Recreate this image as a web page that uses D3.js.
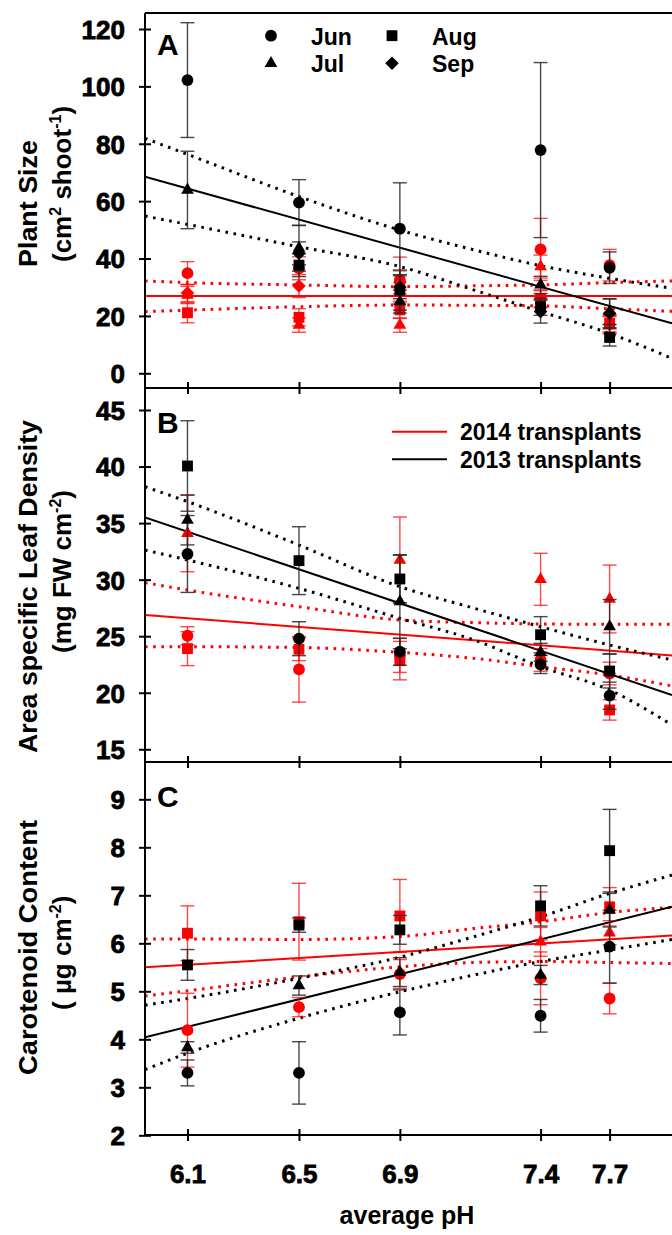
<!DOCTYPE html>
<html>
<head>
<meta charset="utf-8">
<script src="https://cdn.jsdelivr.net/npm/d3@7"></script>
<style>
  body { margin: 0; background: #fff; }
  svg { display: block; }
  text { font-family: "Liberation Sans", Arial, sans-serif; font-weight: bold; fill: #000; }
</style>
</head>
<body>
<svg id="chart" width="672" height="1235"></svg>
<script>
// ---- sites (average pH) ----
const sites = [6.1, 6.52, 6.9, 7.43, 7.69];
const siteLabels = ["6.1", "6.5", "6.9", "7.4", "7.7"];
const months = ["Jun", "Jul", "Aug", "Sep"];
const years = ["2014 transplants", "2013 transplants"];
const fitPH = [5.94, 7.925];
const bandPH = [5.94, 6.1, 6.52, 6.9, 7.18, 7.43, 7.69, 7.925];

// ---- A: plant size (cm2 shoot-1); rows Jun, Jul, Aug, Sep ----
const sizeMean13 = [
  [102.2, 59.5, 50.4, 77.8, 36.8],
  [63.9, 43.6, 25.0, 30.8, 21.5],
  [null, 37.7, 29.0, 23.2, 12.5],
  [null, 41.8, 30.0, 21.5, 20.9]];
const sizeErr13 = [
  [20, 8, 16, 30.5, 5.5],
  [13.5, 8, 4, 3, 4.5],
  [null, 4, 7, 3, 3],
  [null, 4, 4, 4, 5]];
const sizeMean14 = [
  [34.9, 36.6, 32.5, 43.2, 37.7],
  [27.3, 16.8, 16.8, 37.2, 16.8],
  [21.1, 19.5, 22.1, 26.1, 17.5],
  [28.0, 30.4, 31.7, 25.8, 17.0]];
const sizeErr14 = [
  [4, 4, 8, 10.8, 5.5],
  [3, 2.5, 2.5, 4, 3],
  [3.5, 3, 3, 3, 3],
  [3, 4, 4, 3, 3]];
const sizeFit13 = [68.5, 17.4];
const sizeHi13 = [81.9, 76.3, 61.6, 49.9, 43.0, 37.5, 33.1, 29.6];
const sizeLo13 = [54.8, 51.9, 44.1, 37.2, 29.0, 21.5, 13.9, 5.2];
const sizeFit14 = [26.9, 26.9];
const sizeHi14 = [32.2, 31.6, 30.8, 30.2, 30.5, 30.8, 31.6, 32.2];
const sizeLo14 = [21.5, 22.0, 23.2, 23.8, 23.7, 23.5, 22.5, 21.6];

// ---- B: area specific leaf density (mg FW cm-2); rows Jun, Jul, Aug ----
const ldMean13 = [
  [32.27, 24.78, 23.63, 22.5, 19.74],
  [35.27, null, 28.05, 23.57, 25.84],
  [40.05, 31.68, 30.06, 25.13, 21.92]];
const ldErr13 = [
  [3.4, 1.5, 1.2, 0.8, 1.2],
  [2.2, null, 4.15, 0.8, 2.4],
  [4.0, 3.0, 2.1, 1.6, 1.5]];
const ldMean14 = [
  [25.04, 22.07, 23.3, 22.9, 21.7],
  [34.1, null, 31.74, 30.03, 28.29],
  [23.9, 23.84, 22.84, null, 18.48]];
const ldErr14 = [
  [0.8, 2.9, 1.5, 1.0, 1.0],
  [3.4, null, 3.8, 2.3, 3.0],
  [1.5, 1.0, 1.7, null, 0.9]];
const ldFit13 = [35.51, 19.8];
const ldHi13 = [38.22, 36.9, 33.06, 29.38, 27.47, 25.84, 24.22, 22.9];
const ldLo13 = [32.62, 31.74, 29.23, 26.58, 24.66, 22.3, 20.24, 17.15];
const ldFit14 = [26.87, 23.3];
const ldHi14 = [29.73, 29.08, 27.61, 26.43, 26.2, 26.08, 26.05, 26.05];
const ldLo14 = [24.07, 24.07, 24.0, 23.57, 23.04, 22.3, 21.57, 20.6];

// ---- C: carotenoid content (ug cm-2); rows Jun, Jul, Aug ----
const carMean13 = [
  [3.30, 3.30, 4.56, 4.49, 5.93],
  [3.83, 5.12, 5.40, 5.34, 6.69],
  [5.55, 6.38, 6.28, 6.78, 7.93]];
const carErr13 = [
  [0.27, 0.65, 0.47, 0.34, 0.76],
  [0.12, 0.2, 0.3, 0.2, 0.35],
  [0.32, 0.15, 0.3, 0.42, 0.86]];
const carMean14 = [
  [4.19, 4.67, 5.36, 5.27, 4.85],
  [null, null, null, 6.03, 6.22],
  [6.21, 6.45, 6.57, 6.57, 6.76]];
const carErr14 = [
  [0.77, 0.2, 0.3, 0.55, 0.32],
  [null, null, null, 0.3, 0.25],
  [0.57, 0.8, 0.76, 0.5, 0.4]];
const carFit13 = [4.04, 6.76];
const carHi13 = [4.71, 4.85, 5.27, 5.71, 6.14, 6.55, 7.04, 7.42];
const carLo13 = [3.37, 3.71, 4.44, 4.99, 5.34, 5.62, 5.86, 6.08];
const carFit14 = [5.5, 6.16];
const carHi14 = [6.09, 6.09, 6.08, 6.14, 6.31, 6.45, 6.64, 6.75];
const carLo14 = [4.90, 5.01, 5.30, 5.51, 5.60, 5.62, 5.60, 5.58];

// ---- tick values ----
const sizeTicks = [0, 20, 40, 60, 80, 100, 120];
const ldTicks = [15, 20, 25, 30, 35, 40, 45];
const carTicks = [2, 3, 4, 5, 6, 7, 8, 9];

// ---- layout ----
const svg = d3.select("#chart");
const left = 145, right = 672;
const RED = "#ff0000", BLACK = "#000000";

const x = d3.scaleLinear().domain([5.94, 7.925]).range([left, right]);

const panels = [
  { id: "A", top: 13, bottom: 388,
    y: d3.scaleLinear().domain([0, 120]).range([373.3, 29]), ticks: sizeTicks,
    mean: [sizeMean14, sizeMean13], err: [sizeErr14, sizeErr13],
    fit: [sizeFit14, sizeFit13], hi: [sizeHi14, sizeHi13], lo: [sizeLo14, sizeLo13],
    title: [{ t: [["Plant Size"]], start: 267, base: 37, len: 127 },
            { t: [["(cm"], ["2", "sup"], [" shoot"], ["-1", "sup"], [")"]], start: 262, base: 71 }] },
  { id: "B", top: 388, bottom: 762,
    y: d3.scaleLinear().domain([15, 45]).range([749.3, 410]), ticks: ldTicks,
    mean: [ldMean14, ldMean13], err: [ldErr14, ldErr13],
    fit: [ldFit14, ldFit13], hi: [ldHi14, ldHi13], lo: [ldLo14, ldLo13],
    title: [{ t: [["Area specific Leaf Density"]], start: 753, base: 37, len: 333 },
            { t: [["(mg FW cm"], ["-2", "sup"], [")"]], start: 653, base: 71 }] },
  { id: "C", top: 762, bottom: 1135,
    y: d3.scaleLinear().domain([2, 9]).range([1135.3, 799.3]), ticks: carTicks,
    mean: [carMean14, carMean13], err: [carErr14, carErr13],
    fit: [carFit14, carFit13], hi: [carHi14, carHi13], lo: [carLo14, carLo13],
    title: [{ t: [["Carotenoid Content"]], start: 1075, base: 37, len: 255 },
            { t: [["( \u00b5g cm"], ["-2", "sup"], [")"]], start: 1010, base: 71 }] }
];

const symbolFor = {
  Jun: { type: d3.symbolCircle, size: 110, rot: 0 },
  Jul: { type: d3.symbolTriangle, size: 70, rot: 0 },
  Aug: { type: d3.symbolSquare, size: 118, rot: 0 },
  Sep: { type: d3.symbolSquare, size: 92, rot: 45 }
};
const colors = [RED, BLACK];
const barColors = ["rgba(255,0,0,0.72)", "rgba(40,40,40,0.85)"];

panels.forEach((p, pi) => {
  const g = svg.append("g");
  const clipId = "clip" + p.id;
  svg.append("clipPath").attr("id", clipId)
    .append("rect").attr("x", left).attr("y", p.top)
    .attr("width", right - left).attr("height", p.bottom - p.top);
  const plot = g.append("g").attr("clip-path", `url(#${clipId})`);

  // regression fits and confidence bands
  const line = d3.line().x(d => x(d[0])).y(d => p.y(d[1]));
  const band = d3.line().x(d => x(d[0])).y(d => p.y(d[1])).curve(d3.curveMonotoneX);
  [0, 1].forEach(k => {
    plot.append("path").attr("d", line(fitPH.map((v, i) => [v, p.fit[k][i]])))
      .attr("fill", "none").attr("stroke", colors[k]).attr("stroke-width", 2);
    [p.hi[k], p.lo[k]].forEach(arr => {
      plot.append("path").attr("d", band(bandPH.map((v, i) => [v, arr[i]])))
        .attr("fill", "none").attr("stroke", colors[k]).attr("stroke-width", 3)
        .attr("stroke-dasharray", "2.6,5.6");
    });
  });

  // error bars then markers; 2014 first so 2013 sits on top
  [0, 1].forEach(k => {
    p.mean[k].forEach((row, mi) => {
      row.forEach((v, si) => {
        if (v == null) return;
        const e = p.err[k][mi][si];
        const cx = x(sites[si]);
        const y1 = p.y(v + e), y2 = p.y(v - e);
        const eb = plot.append("g").attr("stroke", barColors[k]).attr("stroke-width", 1.4);
        eb.append("line").attr("x1", cx).attr("x2", cx).attr("y1", y1).attr("y2", y2);
        eb.append("line").attr("x1", cx - 7).attr("x2", cx + 7).attr("y1", y1).attr("y2", y1);
        eb.append("line").attr("x1", cx - 7).attr("x2", cx + 7).attr("y1", y2).attr("y2", y2);
      });
    });
    p.mean[k].forEach((row, mi) => {
      const s = symbolFor[months[mi]];
      row.forEach((v, si) => {
        if (v == null) return;
        plot.append("path").attr("d", d3.symbol(s.type, s.size)())
          .attr("transform", `translate(${x(sites[si])},${p.y(v)}) rotate(${s.rot})`)
          .attr("fill", colors[k]);
      });
    });
  });

  // left axis ticks (crossing the axis line)
  const ay = g.append("g").attr("transform", `translate(${left},0)`)
    .call(d3.axisLeft(p.y).tickValues(p.ticks).tickFormat(d3.format("d"))
      .tickSize(6).tickPadding(14));
  ay.select(".domain").remove();
  ay.selectAll(".tick line").attr("x1", 6).attr("x2", -6).attr("stroke-width", 2);
  ay.selectAll(".tick text").attr("font-size", 26).attr("font-family", null)
    .attr("stroke", "#000").attr("stroke-width", 0.8).attr("dy", "0.36em");

  // bottom axis of each panel
  const ax = g.append("g").attr("transform", `translate(0,${p.bottom})`)
    .call(d3.axisBottom(x).tickValues(sites)
      .tickFormat((d, i) => pi === 2 ? siteLabels[i] : "").tickSize(6).tickPadding(24));
  ax.select(".domain").remove();
  ax.selectAll(".tick line").attr("y1", -6).attr("y2", 6).attr("stroke-width", 2);
  ax.selectAll(".tick text").attr("font-size", 26).attr("font-family", null)
    .attr("stroke", "#000").attr("stroke-width", 0.8);
  g.append("line").attr("x1", left).attr("x2", right).attr("y1", p.bottom).attr("y2", p.bottom)
    .attr("stroke", "#000").attr("stroke-width", 2);

  // panel letter
  g.append("text").attr("x", 157).attr("y", p.top + (pi === 0 ? 42 : 45))
    .attr("font-size", 30).text(p.id);

  // y-axis title, two rotated lines
  p.title.forEach(ln => {
    const t = g.append("text").attr("font-size", 26)
      .attr("transform", `translate(${ln.base},${ln.start}) rotate(-90)`);
    if (ln.len) t.attr("textLength", ln.len).attr("lengthAdjust", "spacingAndGlyphs");
    ln.t.forEach(part => {
      const ts = t.append("tspan").text(part[0]);
      if (part[1] === "sup") ts.attr("font-size", 16).attr("dy", -10);
      else if (part[0] !== ln.t[0][0]) ts.attr("dy", 10);
    });
  });
});

// frame: left axis line and top border
svg.append("line").attr("x1", left).attr("x2", left).attr("y1", 13).attr("y2", 1135)
  .attr("stroke", "#000").attr("stroke-width", 2);
svg.append("line").attr("x1", left).attr("x2", right).attr("y1", 13).attr("y2", 13)
  .attr("stroke", "#000").attr("stroke-width", 2);

// x-axis title
svg.append("text").attr("x", 407).attr("y", 1224).attr("text-anchor", "middle")
  .attr("font-size", 25).text("average pH");

// month legend (panel A)
const legA = svg.append("g");
months.forEach((m, i) => {
  const cy = [35.7, 63.3][Math.floor(i / 2)];
  const order = ["Jun", "Aug", "Jul", "Sep"][i];
  const s = symbolFor[order];
  const lx = i % 2 === 0 ? 271 : 392;
  legA.append("path").attr("d", d3.symbol(s.type, s.size)())
    .attr("transform", `translate(${lx},${cy}) rotate(${s.rot})`).attr("fill", BLACK);
  legA.append("text").attr("x", lx + 40).attr("y", cy + 9).attr("font-size", 23).text(order);
});

// year legend (panel B)
const legB = svg.append("g");
years.forEach((yr, i) => {
  const cy = [431.7, 459.3][i];
  legB.append("line").attr("x1", 392).attr("x2", 447).attr("y1", cy).attr("y2", cy)
    .attr("stroke", colors[i]).attr("stroke-width", 2);
  legB.append("text").attr("x", 460).attr("y", cy + 8.5).attr("font-size", 23).text(yr);
});
</script>
</body>
</html>
